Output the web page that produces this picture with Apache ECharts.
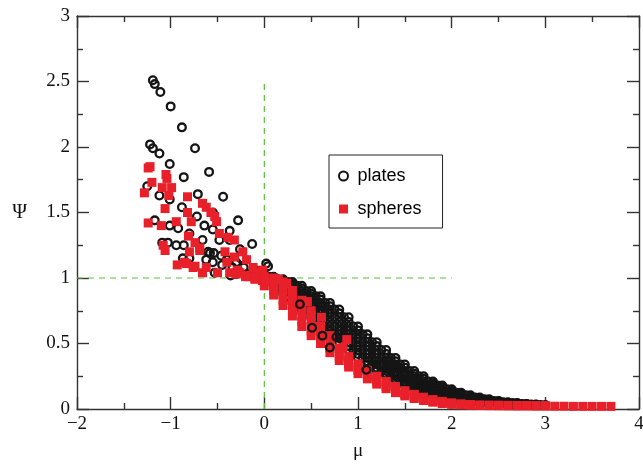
<!DOCTYPE html>
<html>
<head>
<meta charset="utf-8">
<script src="https://cdn.jsdelivr.net/npm/echarts@6/dist/echarts.min.js"></script>
<style>
  html, body { margin: 0; padding: 0; background: #ffffff; }
  #chart { width: 643px; height: 464px; }
</style>
</head>
<body>
<div id="chart"></div>
<script>
// Scattered plate points at negative mu
const platesLeft = [
  [-1.19,2.51],[-1.17,2.48],[-1.11,2.42],[-1.00,2.31],[-0.88,2.15],[-0.74,1.99],[-0.59,1.81],[-0.44,1.62],[-0.28,1.44],
  [-1.22,2.02],[-1.19,1.99],[-1.12,1.95],[-1.01,1.87],[-0.86,1.77],[-0.71,1.64],[-0.55,1.50],[-0.37,1.36],
  [-1.25,1.70],[-1.12,1.63],[-1.01,1.60],[-0.88,1.54],[-0.72,1.47],[-0.64,1.40],[-0.55,1.37],[-0.37,1.29],
  [-1.17,1.44],[-1.01,1.40],[-0.92,1.38],[-0.80,1.34],[-0.66,1.29],[-0.48,1.29],
  [-1.09,1.27],[-1.03,1.27],[-0.94,1.25],[-0.86,1.25],
  [-0.87,1.15],[-0.80,1.15],[-0.62,1.14],[-0.60,1.20],[-0.54,1.19],
  [-0.13,1.26],[0.04,1.09],[-0.26,1.22],
  [-0.58,1.19],[-0.55,1.12],[-0.53,1.04],[-0.34,1.08],[-0.28,1.06],[0.02,1.11],
  [-0.45,1.10],[-0.40,1.14],[-0.36,1.02],[-0.30,1.12],[-0.22,1.08],[-0.18,1.03],[-0.10,1.06],[-0.05,1.02],
  [-0.46,1.17],[-0.25,1.15],[-0.30,1.03],[-0.20,1.02]
];

// Plate points along the decaying band, one array per family
const platesBand0 = [
  [-0.1,1.05],[0.0,1.03],[0.1,1.01],[0.2,0.99],[0.3,0.97],[0.4,0.94],[0.5,0.90],[0.6,0.86],[0.7,0.81],[0.8,0.76],
  [0.9,0.70],[1.0,0.63],[1.1,0.57],[1.2,0.51],[1.3,0.45],[1.4,0.39],[1.5,0.34],[1.6,0.29],[1.7,0.25],[1.8,0.21],
  [1.9,0.18],[2.0,0.15],[2.1,0.125],[2.2,0.105],[2.3,0.088],[2.4,0.074],[2.5,0.062],[2.6,0.052],[2.7,0.045],
  [2.8,0.039],[2.9,0.034],[3.0,0.03]
];
const platesBand1 = [
  [-0.1,1.04],[0.0,1.02],[0.1,1.00],[0.2,0.98],[0.3,0.955],[0.4,0.92],[0.5,0.88],[0.6,0.835],[0.7,0.785],[0.8,0.73],
  [0.9,0.665],[1.0,0.60],[1.1,0.54],[1.2,0.48],[1.3,0.42],[1.4,0.365],[1.5,0.315],[1.6,0.27],[1.7,0.23],[1.8,0.195],
  [1.9,0.165],[2.0,0.137],[2.1,0.115],[2.2,0.096],[2.3,0.081],[2.4,0.068],[2.5,0.057],[2.6,0.048],[2.7,0.042],
  [2.8,0.036],[2.9,0.032]
];
const platesBand2 = [
  [-0.1,1.03],[0.0,1.01],[0.1,0.99],[0.2,0.97],[0.3,0.94],[0.4,0.90],[0.5,0.86],[0.6,0.81],[0.7,0.76],[0.8,0.70],
  [0.9,0.63],[1.0,0.57],[1.1,0.51],[1.2,0.45],[1.3,0.39],[1.4,0.34],[1.5,0.29],[1.6,0.25],[1.7,0.21],[1.8,0.18],
  [1.9,0.15],[2.0,0.125],[2.1,0.105],[2.2,0.088],[2.3,0.074],[2.4,0.062],[2.5,0.052],[2.6,0.045],[2.7,0.039],
  [2.8,0.034],[2.9,0.03]
];
const platesBand3 = [
  [-0.1,1.02],[0.0,1.00],[0.1,0.98],[0.2,0.955],[0.3,0.92],[0.4,0.88],[0.5,0.835],[0.6,0.785],[0.7,0.73],[0.8,0.665],
  [0.9,0.60],[1.0,0.54],[1.1,0.48],[1.2,0.42],[1.3,0.365],[1.4,0.315],[1.5,0.27],[1.6,0.23],[1.7,0.195],[1.8,0.165],
  [1.9,0.137],[2.0,0.115],[2.1,0.096],[2.2,0.081],[2.3,0.068],[2.4,0.057],[2.5,0.048],[2.6,0.042],[2.7,0.036],
  [2.8,0.032]
];
const platesBand4 = [
  [-0.1,1.01],[0.0,0.99],[0.1,0.97],[0.2,0.94],[0.3,0.90],[0.4,0.86],[0.5,0.81],[0.6,0.76],[0.7,0.70],[0.8,0.63],
  [0.9,0.57],[1.0,0.51],[1.1,0.45],[1.2,0.39],[1.3,0.34],[1.4,0.29],[1.5,0.25],[1.6,0.21],[1.7,0.18],[1.8,0.15],
  [1.9,0.125],[2.0,0.105],[2.1,0.088],[2.2,0.074],[2.3,0.062],[2.4,0.052],[2.5,0.045],[2.6,0.039],[2.7,0.034],
  [2.8,0.03]
];
const platesBand5 = [
  [0.0,0.98],[0.1,0.955],[0.2,0.92],[0.3,0.88],[0.4,0.835],[0.5,0.785],[0.6,0.73],[0.7,0.665],[0.8,0.60],[0.9,0.54],
  [1.0,0.48],[1.1,0.42],[1.2,0.365],[1.3,0.315],[1.4,0.27],[1.5,0.23],[1.6,0.195],[1.7,0.165],[1.8,0.137],[1.9,0.115],
  [2.0,0.096],[2.1,0.081],[2.2,0.068],[2.3,0.057],[2.4,0.048],[2.5,0.042],[2.6,0.036]
];
const platesBand6 = [
  [0.1,0.94],[0.2,0.90],[0.3,0.86],[0.4,0.81],[0.5,0.76],[0.6,0.70],[0.7,0.63],[0.8,0.57],[0.9,0.51],[1.0,0.45],
  [1.1,0.39],[1.2,0.34],[1.3,0.29],[1.4,0.25],[1.5,0.21],[1.6,0.18],[1.7,0.15],[1.8,0.125],[1.9,0.105],[2.0,0.088],
  [2.1,0.074],[2.2,0.062],[2.3,0.052],[2.4,0.045]
];
const platesBand7 = [
  [0.2,0.88],[0.3,0.835],[0.4,0.785],[0.5,0.73],[0.6,0.665],[0.7,0.60],[0.8,0.54],[0.9,0.48],[1.0,0.42],[1.1,0.365],
  [1.2,0.315],[1.3,0.27],[1.4,0.23],[1.5,0.195],[1.6,0.165],[1.7,0.137],[1.8,0.115],[1.9,0.096],[2.0,0.081],
  [2.1,0.068],[2.2,0.057]
];
const platesBand8 = [
  [0.3,0.81],[0.4,0.76],[0.5,0.70],[0.6,0.63],[0.7,0.57],[0.8,0.51],[0.9,0.45],[1.0,0.39],[1.1,0.34],[1.2,0.29],
  [1.3,0.25],[1.4,0.21],[1.5,0.18],[1.6,0.15],[1.7,0.125],[1.8,0.105],[1.9,0.088],[2.0,0.074]
];
const platesBand9 = [
  [0.05,1.01],[0.15,0.99],[0.25,0.97],[0.35,0.94],[0.45,0.90],[0.55,0.86],[0.65,0.81],[0.75,0.76],[0.85,0.70],
  [0.95,0.63],[1.05,0.57],[1.15,0.51],[1.25,0.45],[1.35,0.39],[1.45,0.34],[1.55,0.29],[1.65,0.25],[1.75,0.21],
  [1.85,0.18],[1.95,0.15],[2.05,0.125],[2.15,0.105],[2.25,0.088],[2.35,0.074],[2.45,0.062],[2.55,0.052],
  [2.65,0.045],[2.75,0.039],[2.85,0.034],[2.95,0.03]
];
const platesBand10 = [
  [0.05,0.99],[0.15,0.97],[0.25,0.94],[0.35,0.90],[0.45,0.86],[0.55,0.81],[0.65,0.76],[0.75,0.70],[0.85,0.63],
  [0.95,0.57],[1.05,0.51],[1.15,0.45],[1.25,0.39],[1.35,0.34],[1.45,0.29],[1.55,0.25],[1.65,0.21],[1.75,0.18],
  [1.85,0.15],[1.95,0.125],[2.05,0.105],[2.15,0.088],[2.25,0.074],[2.35,0.062],[2.45,0.052],[2.55,0.045],
  [2.65,0.039],[2.75,0.034]
];
const platesBand11 = [
  [0.15,0.94],[0.25,0.90],[0.35,0.86],[0.45,0.81],[0.55,0.76],[0.65,0.70],[0.75,0.63],[0.85,0.57],[0.95,0.51],
  [1.05,0.45],[1.15,0.39],[1.25,0.34],[1.35,0.29],[1.45,0.25],[1.55,0.21],[1.65,0.18],[1.75,0.15],[1.85,0.125],
  [1.95,0.105],[2.05,0.088],[2.15,0.074],[2.25,0.062],[2.35,0.052]
];
const platesBand12 = [
  [0.25,0.86],[0.35,0.81],[0.45,0.76],[0.55,0.70],[0.65,0.63],[0.75,0.57],[0.85,0.51],[0.95,0.45],[1.05,0.39],
  [1.15,0.34],[1.25,0.29],[1.35,0.25],[1.45,0.21],[1.55,0.18],[1.65,0.15],[1.75,0.125],[1.85,0.105],[1.95,0.088],
  [2.05,0.074],[2.15,0.062]
];
// Plate points lying among the sphere band
const platesMid = [
  [0.38,0.80],[0.51,0.62],[0.70,0.47],[0.77,0.55],[1.09,0.30],[0.62,0.56]
];

// Scattered sphere points at negative mu
const spheresLeft = [
  [-1.24,1.84],[-1.22,1.85],[-1.05,1.79],[-1.04,1.76],[-1.20,1.73],[-1.09,1.69],[-0.99,1.69],[-1.28,1.65],
  [-1.02,1.63],[-0.82,1.62],[-1.06,1.53],[-0.66,1.57],[-0.62,1.54],[-0.57,1.50],[-0.53,1.47],[-0.51,1.43],
  [-0.82,1.50],[-0.78,1.43],[-0.94,1.43],[-1.24,1.42],[-1.10,1.40],[-0.81,1.32],[-0.74,1.27],[-0.69,1.23],
  [-0.48,1.34],[-0.39,1.31],[-0.32,1.29],[-1.08,1.25],[-1.06,1.21],[-0.80,1.20],[-0.93,1.10],[-0.85,1.12],
  [-0.76,1.08],[-0.69,1.21],[-0.66,1.04],[-0.50,1.04],[-0.42,1.20],[-0.23,1.20],[-0.19,1.14],[-0.12,1.08],
  [-0.08,1.04],[-0.29,1.06],[-0.40,1.12],[-0.32,1.16],[-0.62,1.08],[-0.37,1.04],[-0.26,1.04],[-0.16,1.01],
  [-0.02,0.98],[-0.83,1.11],[-0.74,1.09],[-0.02,1.06]
];

// Sphere points along the decaying band, one array per family
const spheresBand0 = [
  [-0.3,1.03],[-0.2,1.01],[-0.1,0.99],[0.0,0.94],[0.1,0.87],[0.2,0.79],[0.3,0.71],[0.4,0.63],[0.5,0.56],[0.6,0.50],
  [0.7,0.43],[0.8,0.37],[0.9,0.32],[1.0,0.27],[1.1,0.23],[1.2,0.19],[1.3,0.155],[1.4,0.125],[1.5,0.10],[1.6,0.08],
  [1.7,0.065],[1.8,0.052],[1.9,0.042],[2.0,0.036],[2.1,0.032],[2.2,0.029],[2.3,0.027],[2.4,0.026],[2.5,0.025],
  [2.6,0.024],[2.7,0.023],[2.8,0.023],[2.9,0.022],[3.0,0.022],[3.1,0.021],[3.2,0.021],[3.3,0.02],[3.4,0.02],
  [3.5,0.02],[3.6,0.02],[3.7,0.02]
];
const spheresBand1 = [
  [-0.2,1.02],[-0.1,1.00],[0.0,0.97],[0.1,0.905],[0.2,0.83],[0.3,0.75],[0.4,0.67],[0.5,0.595],[0.6,0.53],[0.7,0.465],
  [0.8,0.40],[0.9,0.345],[1.0,0.295],[1.1,0.25],[1.2,0.21],[1.3,0.172],[1.4,0.14],[1.5,0.112],[1.6,0.09],[1.7,0.072],
  [1.8,0.058],[1.9,0.047],[2.0,0.039],[2.1,0.034],[2.2,0.032],[2.3,0.031],[2.4,0.03],[2.5,0.029],[2.6,0.028],
  [2.7,0.027],[2.8,0.027],[2.9,0.026],[3.0,0.026]
];
const spheresBand2 = [
  [-0.1,1.01],[0.0,0.99],[0.1,0.94],[0.2,0.87],[0.3,0.79],[0.4,0.71],[0.5,0.63],[0.6,0.56],[0.7,0.50],[0.8,0.43],
  [0.9,0.37],[1.0,0.32],[1.1,0.27],[1.2,0.23],[1.3,0.19],[1.4,0.155],[1.5,0.125],[1.6,0.10],[1.7,0.08],[1.8,0.065],
  [1.9,0.052],[2.0,0.042],[2.1,0.036],[2.2,0.033]
];
const spheresBand3 = [
  [0.0,1.00],[0.1,0.97],[0.2,0.905],[0.3,0.83],[0.4,0.75],[0.5,0.67],[0.6,0.595],[0.7,0.53],[0.8,0.465],[0.9,0.40],
  [1.0,0.345],[1.1,0.295],[1.2,0.25],[1.3,0.21],[1.4,0.172],[1.5,0.14],[1.6,0.112],[1.7,0.09],[1.8,0.072],
  [1.9,0.058],[2.0,0.047],[2.1,0.039],[2.2,0.034]
];
const spheresBand4 = [
  [0.0,1.01],[0.1,0.99],[0.2,0.94],[0.3,0.87],[0.4,0.79],[0.5,0.71],[0.6,0.63],[0.7,0.56]
];
const spheresBand5 = [
  [0.1,1.00],[0.2,0.97],[0.3,0.905],[0.4,0.83],[0.5,0.75]
];
// Sphere points lying among the plate band
const spheresMid = [
  [0.46,0.82],[0.61,0.70],[0.88,0.53],[0.84,0.47],[0.15,0.99],[0.24,0.96]
];

// Dashed guide lines
const guideVertical = [[0, 0], [0, 2.5]];
const guideHorizontal = [[-2, 1], [2, 1]];

const platesData = platesLeft.concat(platesBand0, platesBand1, platesBand2, platesBand3, platesBand4,
  platesBand5, platesBand6, platesBand7, platesBand8, platesBand9, platesBand10, platesBand11, platesBand12);
const spheresData = spheresLeft.concat(spheresBand0, spheresBand1, spheresBand2, spheresBand3,
  spheresBand4, spheresBand5, spheresMid);

const axisColor = '#333333';
const serif = '"Liberation Serif", "DejaVu Serif", serif';
const minusFmt = v => (v < 0 ? '\u2212' + Math.abs(v) : String(v));
const plateStyle = { color: 'rgba(0,0,0,0)', borderColor: '#151515', borderWidth: 2.3, opacity: 1 };
const sphereColor = '#e8202a';

function baseAxis(extra) {
  return Object.assign({
    type: 'value',
    splitLine: { show: false },
    axisLine: { show: true, onZero: false, lineStyle: { color: axisColor, width: 1.4 } },
    axisTick: { show: true, inside: true, length: 12, lineStyle: { color: axisColor, width: 1.4 } },
    minorTick: { show: true, splitNumber: 2, length: 6, lineStyle: { color: axisColor, width: 1.4 } },
    minorSplitLine: { show: false }
  }, extra);
}

const chart = echarts.init(document.getElementById('chart'), null, { renderer: 'canvas' });
chart.setOption({
  backgroundColor: '#ffffff',
  animation: false,
  grid: { left: 77, right: 4, top: 16, bottom: 55, containLabel: false, outerBoundsMode: 'none' },
  legend: {
    orient: 'vertical',
    left: 329,
    top: 155,
    padding: [12, 21, 10, 9],
    itemGap: 15,
    itemWidth: 18,
    itemHeight: 9,
    symbolKeepAspect: true,
    borderColor: '#222222',
    borderWidth: 1,
    textStyle: { fontFamily: '"Liberation Sans", Arial, sans-serif', fontSize: 18, color: '#000000' },
    data: [
      { name: 'plates', icon: 'circle', itemStyle: { color: 'rgba(0,0,0,0)', borderColor: '#111111', borderWidth: 2 } },
      { name: 'spheres', icon: 'path://M0,0L8,0L8,8L0,8Z', itemStyle: { color: sphereColor, borderWidth: 0 } }
    ]
  },
  xAxis: [
    baseAxis({
      min: -2, max: 4, interval: 1, position: 'bottom',
      axisLabel: { margin: 6, fontFamily: serif, fontSize: 19, color: '#111111', formatter: minusFmt },
      name: '\u03bc', nameLocation: 'middle', nameGap: 33,
      nameTextStyle: { fontFamily: serif, fontSize: 19, color: '#111111' }
    }),
    baseAxis({ min: -2, max: 4, interval: 1, position: 'top', axisLabel: { show: false } })
  ],
  yAxis: [
    baseAxis({
      min: 0, max: 3, interval: 0.5, position: 'left',
      axisLabel: { margin: 7, fontFamily: serif, fontSize: 19, color: '#111111' },
      name: '\u03a8', nameLocation: 'middle', nameGap: 50, nameRotate: 0,
      nameTextStyle: { fontFamily: serif, fontSize: 20, color: '#111111' }
    }),
    baseAxis({ min: 0, max: 3, interval: 0.5, position: 'right', axisLabel: { show: false } })
  ],
  series: [
    {
      name: 'guideV', type: 'line', data: guideVertical, symbol: 'none', silent: true, z: 1,
      lineStyle: { color: '#5cbf3a', width: 1.2, type: [6, 5] }
    },
    {
      name: 'guideH', type: 'line', data: guideHorizontal, symbol: 'none', silent: true, z: 1,
      lineStyle: { color: '#5cbf3a', width: 1.2, type: [6, 5] }
    },
    {
      name: 'plates', type: 'scatter', data: platesData, symbol: 'circle', symbolSize: 7.7, z: 2,
      itemStyle: plateStyle
    },
    {
      name: 'spheres', type: 'scatter', data: spheresData, symbol: 'rect', symbolSize: 9, z: 3,
      itemStyle: { color: sphereColor, opacity: 1 }
    },
    {
      name: 'plates', type: 'scatter', data: platesMid, symbol: 'circle', symbolSize: 7.7, z: 4,
      itemStyle: plateStyle
    }
  ]
});
</script>
</body>
</html>
